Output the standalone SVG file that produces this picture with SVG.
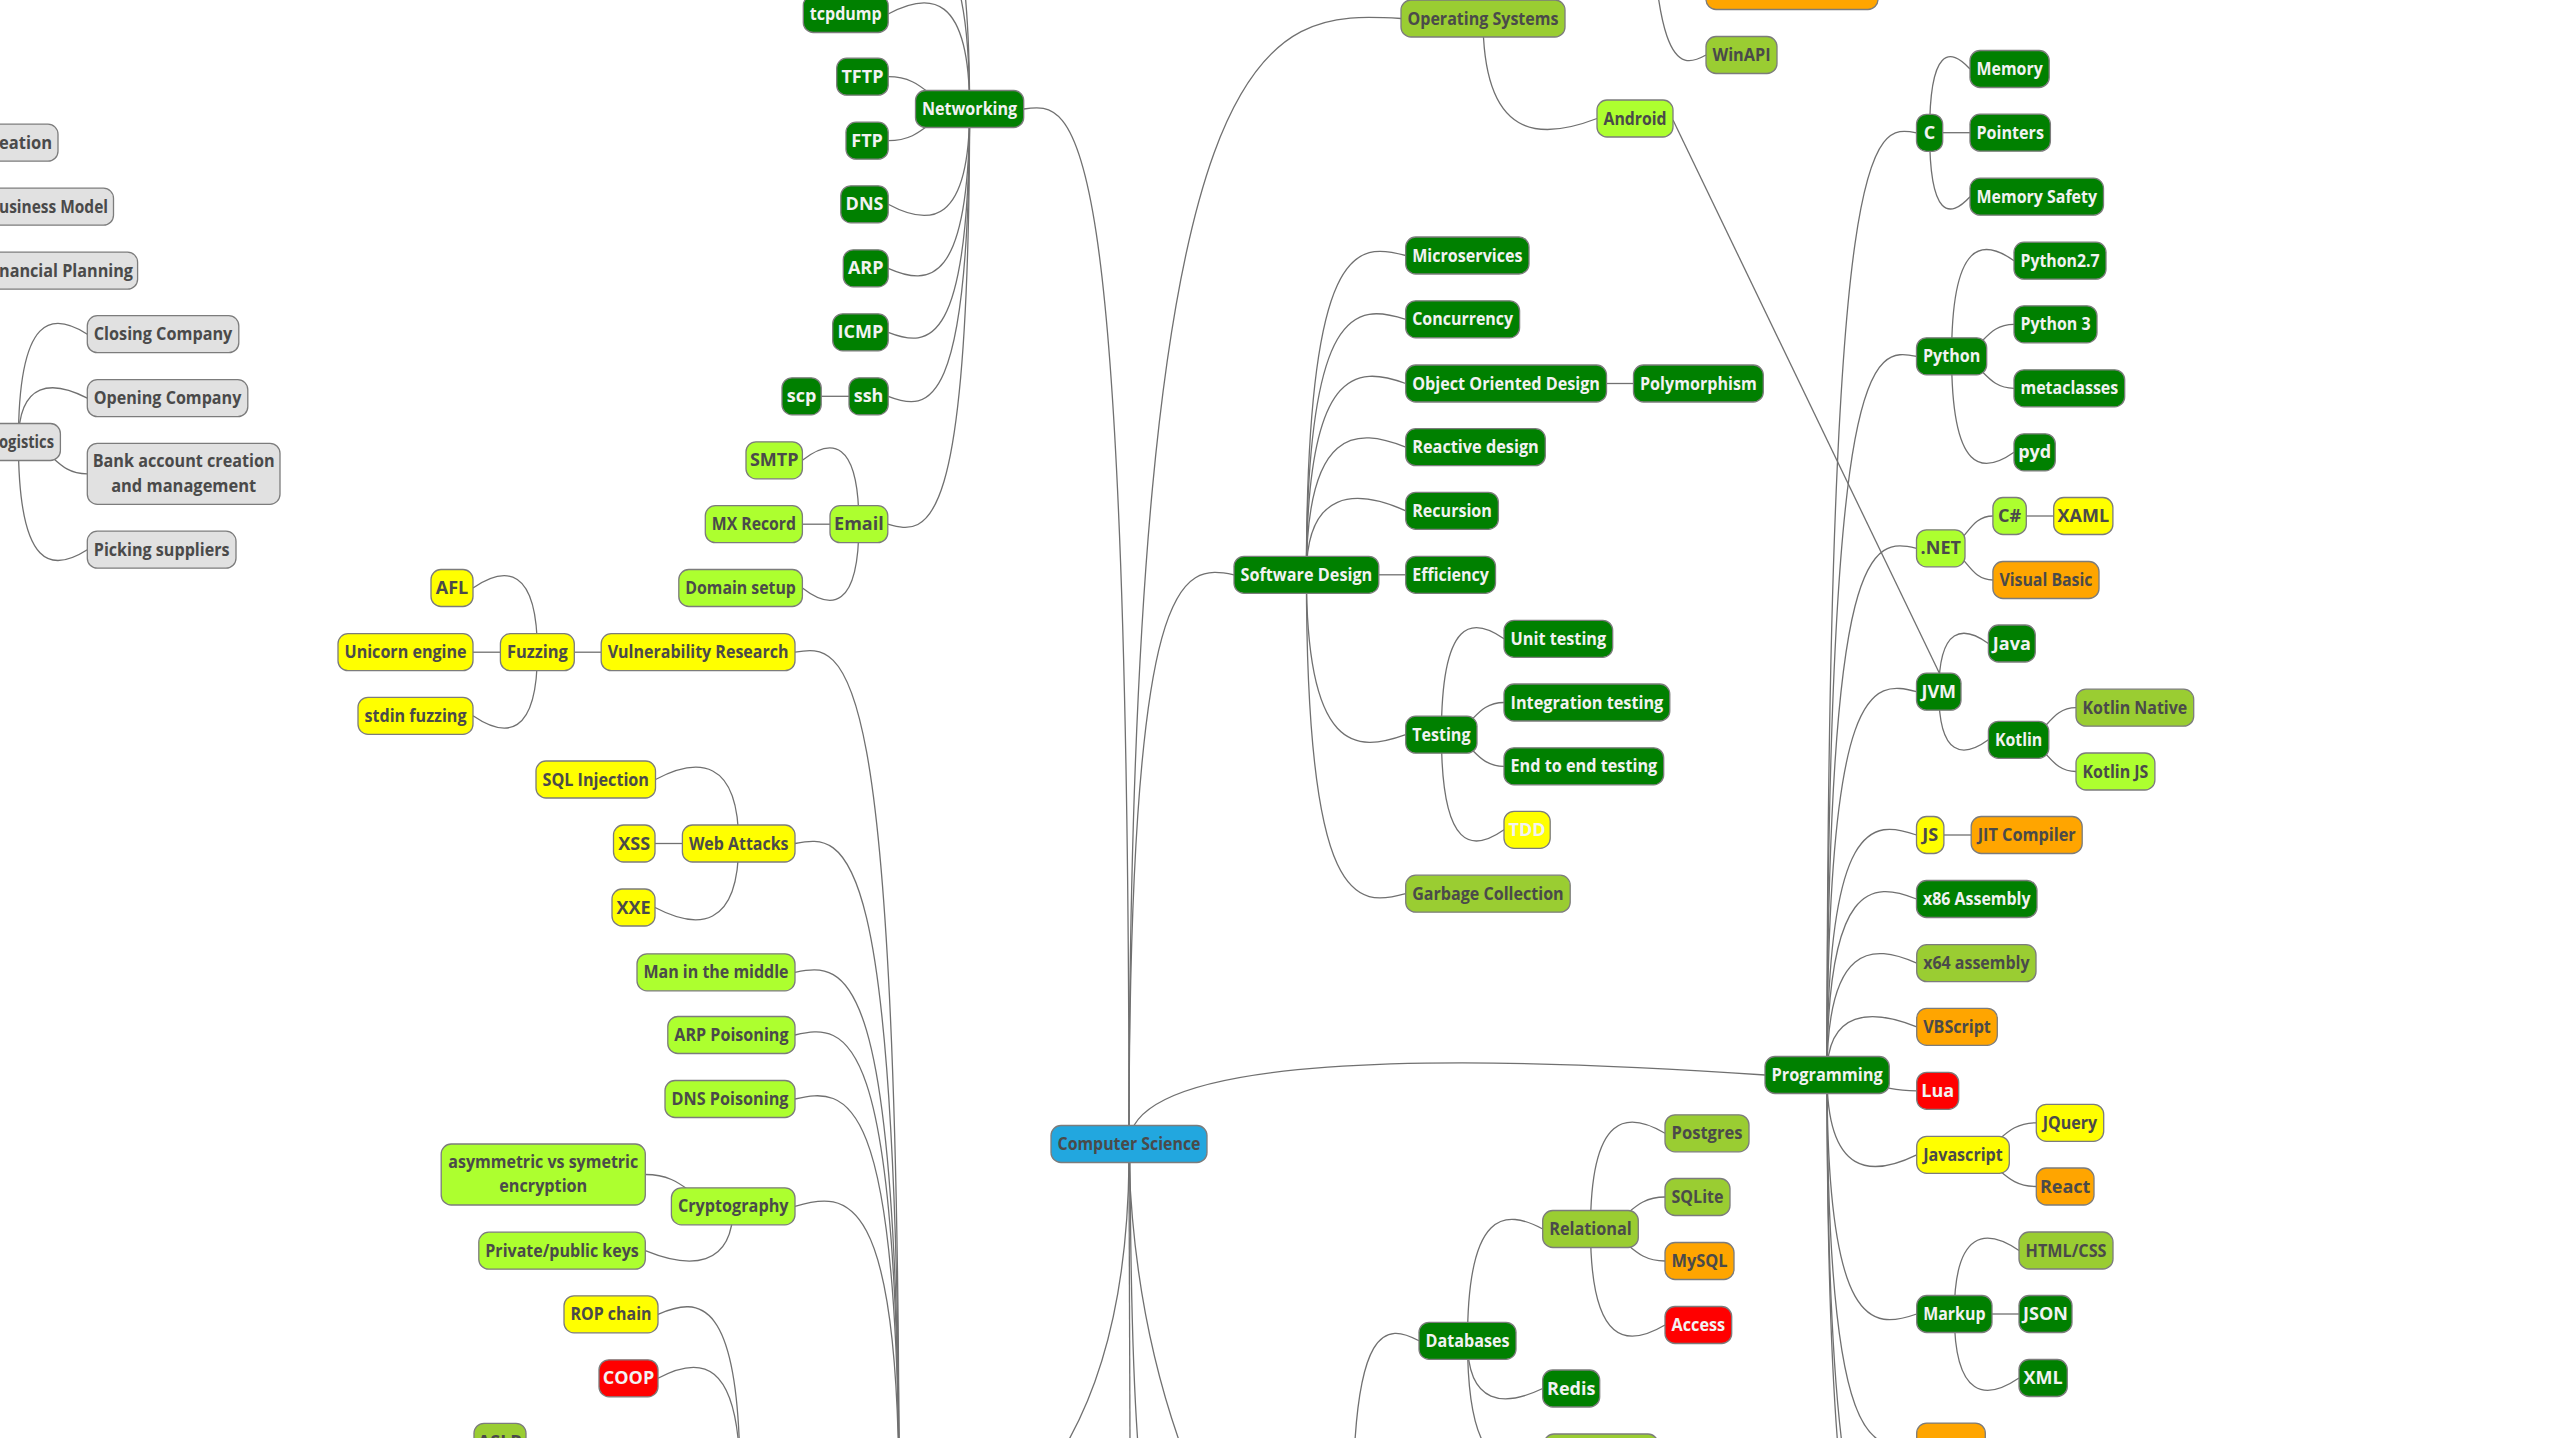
<svg xmlns="http://www.w3.org/2000/svg" width="2550" height="1438" viewBox="0 0 2550 1438">
<style>
.c path{fill:none;stroke:#707070;stroke-width:1.3}
.n rect{stroke:#7c7c7c;stroke-width:1.3}
.n text{font-family:"Open Sans","Noto Sans","DejaVu Sans",sans-serif;font-weight:700;font-size:18px}
.k text{fill:#4a4a4a}
.w text{fill:#f2f2f2}
.g rect{fill:#008000}
.gy rect{fill:#adff2f}
.yg rect{fill:#9acd32}
.y rect{fill:#ffff00}
.o rect{fill:#ffa500}
.r rect{fill:#ff0000}
.gr rect{fill:#e1e1e1}
.b rect{fill:#22a7df}
</style>
<rect x="0" y="0" width="2550" height="1438" fill="#ffffff"/>
<g id="connectors" class="c">
<path d="M18.4,442C18.4,312.2 52.9,312.2 87.3,334.2"/>
<path d="M18.4,442C18.4,380.2 52.9,380.2 87.3,398.2"/>
<path d="M18.4,442C52.9,442 52.9,473.8 87.3,473.8"/>
<path d="M18.4,442C18.4,571.7 52.9,571.7 87.3,549.7"/>
<path d="M969.6,109C969.6,-69.1 928.9,-69.1 888.2,-51.1"/>
<path d="M969.6,109C969.6,-131 928.9,-131 888.2,-115"/>
<path d="M969.6,109C969.6,-8 928.9,-8 888.2,14"/>
<path d="M969.6,109C928.9,109 928.9,76.7 888.2,76.7"/>
<path d="M969.6,109C928.9,109 928.9,140.7 888.2,140.7"/>
<path d="M969.6,109C969.6,226.3 928.9,226.3 888.2,204.3"/>
<path d="M969.6,109C969.6,286.3 928.9,286.3 888.2,268.3"/>
<path d="M969.6,109C969.6,348.3 928.9,348.3 888.2,332.3"/>
<path d="M969.6,109C969.6,412.3 928.9,412.3 888.2,396.3"/>
<path d="M969.6,109C969.6,536.2 928.7,536.2 887.8,524.2"/>
<path d="M849,396.3L821.2,396.3"/>
<path d="M858.9,524.2C858.9,438.3 830.7,438.3 802.4,460.3"/>
<path d="M830,524.2L802.4,524.2"/>
<path d="M858.9,524.2C858.9,610 830.7,610 802.4,588"/>
<path d="M601.2,652.2L574.3,652.2"/>
<path d="M537.4,652.2C537.4,566 505.2,566 473,588"/>
<path d="M500.4,652.2L473,652.2"/>
<path d="M537.4,652.2C537.4,737.8 505.2,737.8 473,715.8"/>
<path d="M738.7,843.5C738.7,757.5 697.1,757.5 655.5,779.5"/>
<path d="M682.4,843.5L655,843.5"/>
<path d="M738.7,843.5C738.7,929.5 696.9,929.5 655,907.5"/>
<path d="M733.2,1206.3C689.3,1206.3 689.3,1174.5 645.3,1174.5"/>
<path d="M733.2,1206.3C733.2,1268.7 689.3,1268.7 645.3,1250.7"/>
<path d="M899,1500C899,643.2 847,643.2 795,652.2"/>
<path d="M899,1500C899,833 847,833 795,843.5"/>
<path d="M899,1500C899,961.8 847,961.8 795,972.3"/>
<path d="M899,1500C899,1023 847,1023 795,1035"/>
<path d="M899,1500C899,1087 847,1087 795,1099"/>
<path d="M899,1500C899,1190.3 847,1190.3 795,1206.3"/>
<path d="M740,1480C740,1296.3 699,1296.3 658,1314.3"/>
<path d="M740,1480C740,1356.3 699,1356.3 658,1378.3"/>
<path d="M1129,1144C1129,101 1076.4,101 1023.7,109"/>
<path d="M1129,1144C1129,10.5 1265,10.5 1401,18.5"/>
<path d="M1129,1144C1129,564.3 1181.5,564.3 1234,574.8"/>
<path d="M1129,1144C1129,1053 1447,1053 1765,1075"/>
<path d="M1129,1162Q1135,1330 1190,1470"/>
<path d="M1129,1162Q1127,1360 1050,1470"/>
<path d="M1129,1162L1130,1445"/>
<path d="M1130,1162Q1131,1350 1138,1445"/>
<path d="M1483,18.5C1483,140.5 1540,140.5 1597,118.5"/>
<path d="M1649,-195C1649,71 1677.5,71 1706,55"/>
<path d="M1673,120L1939.4,673.2"/>
<path d="M1306.4,574.8C1306.4,241.5 1356,241.5 1405.7,255.5"/>
<path d="M1306.4,574.8C1306.4,303.3 1356,303.3 1405.7,319.3"/>
<path d="M1306.4,574.8C1306.4,365.5 1356,365.5 1405.7,383.5"/>
<path d="M1306.4,574.8C1306.4,427.2 1356,427.2 1405.7,447.2"/>
<path d="M1306.4,574.8C1306.4,488.8 1356,488.8 1405.7,510.8"/>
<path d="M1378.8,574.8L1405.7,574.8"/>
<path d="M1306.4,574.8C1306.4,752.7 1356,752.7 1405.7,734.7"/>
<path d="M1306.4,574.8C1306.4,907.7 1356,907.7 1405.7,893.7"/>
<path d="M1606.5,383.5L1633.5,383.5"/>
<path d="M1441.4,734.7C1441.4,616.8 1472.7,616.8 1504,638.8"/>
<path d="M1441.4,734.7C1472.7,734.7 1472.7,702.5 1504,702.5"/>
<path d="M1441.4,734.7C1472.7,734.7 1472.7,766.3 1504,766.3"/>
<path d="M1441.4,734.7C1441.4,851.8 1472.7,851.8 1504,829.8"/>
<path d="M1353,1510C1353,1322.8 1386,1322.8 1419,1340.8"/>
<path d="M1467.5,1340.8C1467.5,1209 1505.1,1209 1542.7,1229"/>
<path d="M1467.5,1340.8C1467.5,1406.5 1505.1,1406.5 1542.7,1388.5"/>
<path d="M1467.5,1340.8C1467.5,1472.5 1505.8,1472.5 1544,1452.5"/>
<path d="M1590.5,1229C1590.5,1111.3 1627.8,1111.3 1665,1133.3"/>
<path d="M1590.5,1229C1627.8,1229 1627.8,1197 1665,1197"/>
<path d="M1590.5,1229C1627.8,1229 1627.8,1261 1665,1261"/>
<path d="M1590.5,1229C1590.5,1347 1627.8,1347 1665,1325"/>
<path d="M1827,1075C1827,123.8 1871.8,123.8 1916.5,132.8"/>
<path d="M1827,1075C1827,347.3 1871.8,347.3 1916.5,356.3"/>
<path d="M1827,1075C1827,537.8 1871.8,537.8 1916.5,548.3"/>
<path d="M1827,1075C1827,679.7 1871.8,679.7 1916.5,691.7"/>
<path d="M1827,1075C1827,819 1871.8,819 1916.5,835"/>
<path d="M1827,1075C1827,881 1871.8,881 1916.5,899"/>
<path d="M1827,1075C1827,943.2 1871.8,943.2 1916.7,963.2"/>
<path d="M1827,1075C1827,1008.8 1871.8,1008.8 1916.7,1026.8"/>
<path d="M1827,1075C1871.8,1075 1871.8,1090.8 1916.7,1090.8"/>
<path d="M1827,1075C1827,1176.8 1871.8,1176.8 1916.7,1154.8"/>
<path d="M1827,1075C1827,1330 1871.8,1330 1916.7,1314"/>
<path d="M1827,1075C1827,1453.6 1871.8,1453.6 1916.7,1441.6"/>
<path d="M1827,1075C1827,1581 1871.8,1581 1916.7,1569.4"/>
<path d="M1827,1075C1827,1643.8 1871.8,1643.8 1916.7,1633.3"/>
<path d="M1929.6,132.8C1929.6,47 1949.8,47 1970,69"/>
<path d="M1942.7,132.7L1970,132.7"/>
<path d="M1929.6,132.8C1929.6,218.7 1949.8,218.7 1970,196.7"/>
<path d="M1951.6,356.3C1951.6,238.7 1982.8,238.7 2014,260.7"/>
<path d="M1951.6,356.3C1982.8,356.3 1982.8,324.3 2014,324.3"/>
<path d="M1951.6,356.3C1982.8,356.3 1982.8,388.3 2014,388.3"/>
<path d="M1951.6,356.3C1951.6,474.3 1982.8,474.3 2014,452.3"/>
<path d="M1940.8,548.3C1966.9,548.3 1966.9,516 1992.9,516"/>
<path d="M1940.8,548.3C1966.9,548.3 1966.9,580 1992.9,580"/>
<path d="M2026.3,516L2053.7,516"/>
<path d="M1938.8,691.7C1938.8,625.5 1963.6,625.5 1988.4,643.5"/>
<path d="M1938.8,691.7C1938.8,757.8 1963.6,757.8 1988.4,739.8"/>
<path d="M2018.6,739.8C2047.3,739.8 2047.3,707.7 2076,707.7"/>
<path d="M2018.6,739.8C2047.3,739.8 2047.3,771.5 2076,771.5"/>
<path d="M1943.9,835L1971.2,835"/>
<path d="M1963,1154.8C1999.7,1154.8 1999.7,1122.8 2036.3,1122.8"/>
<path d="M1963,1154.8C1999.7,1154.8 1999.7,1186.5 2036.3,1186.5"/>
<path d="M1954.3,1314C1954.3,1228.5 1986.7,1228.5 2019,1250.5"/>
<path d="M1992,1314L2019,1314"/>
<path d="M1954.3,1314C1954.3,1400 1986.7,1400 2019,1378"/>
</g>
<g id="n-creation" class="n gr k"><rect x="-40" y="124.2" width="98" height="37" rx="10"/><text x="-1" y="148.7" textLength="53" lengthAdjust="spacingAndGlyphs">eation</text></g>
<g id="n-business-model" class="n gr k"><rect x="-40" y="188.2" width="153.5" height="37" rx="10"/><text x="-1" y="212.7" textLength="109" lengthAdjust="spacingAndGlyphs">usiness Model</text></g>
<g id="n-financial-planning" class="n gr k"><rect x="-40" y="252.2" width="177.6" height="37" rx="10"/><text x="-1" y="276.7" textLength="134" lengthAdjust="spacingAndGlyphs">nancial Planning</text></g>
<g id="n-logistics" class="n gr k"><rect x="-24" y="423.5" width="84.4" height="37" rx="10"/><text x="-1" y="448" textLength="55" lengthAdjust="spacingAndGlyphs">ogistics</text></g>
<g id="n-closing-company" class="n gr k"><rect x="87.3" y="315.7" width="151.5" height="37" rx="10"/><text x="93.8" y="340.2" textLength="138.5" lengthAdjust="spacingAndGlyphs">Closing Company</text></g>
<g id="n-opening-company" class="n gr k"><rect x="87.3" y="379.7" width="160.5" height="37" rx="10"/><text x="93.8" y="404.2" textLength="147.5" lengthAdjust="spacingAndGlyphs">Opening Company</text></g>
<g id="n-bank-account" class="n gr k"><rect x="87.3" y="443.3" width="192.7" height="61" rx="10"/><text x="92.65" y="466.8" textLength="182" lengthAdjust="spacingAndGlyphs">Bank account creation</text><text x="111.15" y="491.5" textLength="145" lengthAdjust="spacingAndGlyphs">and management</text></g>
<g id="n-picking-suppliers" class="n gr k"><rect x="87.3" y="531.2" width="148.7" height="37" rx="10"/><text x="93.8" y="555.7" textLength="135.7" lengthAdjust="spacingAndGlyphs">Picking suppliers</text></g>
<g id="n-networking" class="n g w"><rect x="915.5" y="90.5" width="108.2" height="37" rx="10"/><text x="922" y="115" textLength="95.2" lengthAdjust="spacingAndGlyphs">Networking</text></g>
<g id="n-tcpdump" class="n g w"><rect x="803.3" y="-4.5" width="84.9" height="37" rx="10"/><text x="809.8" y="20" textLength="71.9" lengthAdjust="spacingAndGlyphs">tcpdump</text></g>
<g id="n-tftp" class="n g w"><rect x="836.7" y="58.2" width="51.5" height="37" rx="10"/><text x="862.45" y="82.7" text-anchor="middle">TFTP</text></g>
<g id="n-ftp" class="n g w"><rect x="846" y="122.2" width="42.2" height="37" rx="10"/><text x="867.1" y="146.7" text-anchor="middle">FTP</text></g>
<g id="n-dns" class="n g w"><rect x="840.8" y="185.8" width="47.4" height="37" rx="10"/><text x="864.5" y="210.3" text-anchor="middle">DNS</text></g>
<g id="n-arp" class="n g w"><rect x="843.3" y="249.8" width="44.9" height="37" rx="10"/><text x="865.75" y="274.3" text-anchor="middle">ARP</text></g>
<g id="n-icmp" class="n g w"><rect x="832.7" y="313.8" width="55.5" height="37" rx="10"/><text x="860.45" y="338.3" text-anchor="middle">ICMP</text></g>
<g id="n-ssh" class="n g w"><rect x="849" y="377.8" width="39.2" height="37" rx="10"/><text x="868.6" y="402.3" text-anchor="middle">ssh</text></g>
<g id="n-scp" class="n g w"><rect x="782" y="377.8" width="39.2" height="37" rx="10"/><text x="801.6" y="402.3" text-anchor="middle">scp</text></g>
<g id="n-email" class="n gy k"><rect x="830" y="505.7" width="57.8" height="37" rx="10"/><text x="858.9" y="530.2" text-anchor="middle">Email</text></g>
<g id="n-smtp" class="n gy k"><rect x="746" y="441.8" width="56.4" height="37" rx="10"/><text x="774.2" y="466.3" text-anchor="middle">SMTP</text></g>
<g id="n-mx-record" class="n gy k"><rect x="705.3" y="505.7" width="97.1" height="37" rx="10"/><text x="711.8" y="530.2" textLength="84.1" lengthAdjust="spacingAndGlyphs">MX Record</text></g>
<g id="n-domain-setup" class="n gy k"><rect x="678.8" y="569.5" width="123.6" height="37" rx="10"/><text x="685.3" y="594" textLength="110.6" lengthAdjust="spacingAndGlyphs">Domain setup</text></g>
<g id="n-vulnerability-research" class="n y k"><rect x="601.2" y="633.7" width="193.8" height="37" rx="10"/><text x="607.7" y="658.2" textLength="180.8" lengthAdjust="spacingAndGlyphs">Vulnerability Research</text></g>
<g id="n-fuzzing" class="n y k"><rect x="500.4" y="633.7" width="73.9" height="37" rx="10"/><text x="506.9" y="658.2" textLength="60.9" lengthAdjust="spacingAndGlyphs">Fuzzing</text></g>
<g id="n-unicorn-engine" class="n y k"><rect x="338" y="633.7" width="135" height="37" rx="10"/><text x="344.5" y="658.2" textLength="122" lengthAdjust="spacingAndGlyphs">Unicorn engine</text></g>
<g id="n-afl" class="n y k"><rect x="431" y="569.5" width="42" height="37" rx="10"/><text x="452" y="594" text-anchor="middle">AFL</text></g>
<g id="n-stdin-fuzzing" class="n y k"><rect x="358" y="697.3" width="115" height="37" rx="10"/><text x="364.5" y="721.8" textLength="102" lengthAdjust="spacingAndGlyphs">stdin fuzzing</text></g>
<g id="n-web-attacks" class="n y k"><rect x="682.4" y="825" width="112.6" height="37" rx="10"/><text x="688.9" y="849.5" textLength="99.6" lengthAdjust="spacingAndGlyphs">Web Attacks</text></g>
<g id="n-sql-injection" class="n y k"><rect x="536" y="761" width="119.5" height="37" rx="10"/><text x="542.5" y="785.5" textLength="106.5" lengthAdjust="spacingAndGlyphs">SQL Injection</text></g>
<g id="n-xss" class="n y k"><rect x="613.5" y="825" width="41.5" height="37" rx="10"/><text x="634.25" y="849.5" text-anchor="middle">XSS</text></g>
<g id="n-xxe" class="n y k"><rect x="612" y="889" width="43" height="37" rx="10"/><text x="633.5" y="913.5" text-anchor="middle">XXE</text></g>
<g id="n-mitm" class="n gy k"><rect x="637" y="953.8" width="158" height="37" rx="10"/><text x="643.5" y="978.3" textLength="145" lengthAdjust="spacingAndGlyphs">Man in the middle</text></g>
<g id="n-arp-poisoning" class="n gy k"><rect x="667.8" y="1016.5" width="127.2" height="37" rx="10"/><text x="674.3" y="1041" textLength="114.2" lengthAdjust="spacingAndGlyphs">ARP Poisoning</text></g>
<g id="n-dns-poisoning" class="n gy k"><rect x="665" y="1080.5" width="130" height="37" rx="10"/><text x="671.5" y="1105" textLength="117" lengthAdjust="spacingAndGlyphs">DNS Poisoning</text></g>
<g id="n-cryptography" class="n gy k"><rect x="671.4" y="1187.8" width="123.6" height="37" rx="10"/><text x="677.9" y="1212.3" textLength="110.6" lengthAdjust="spacingAndGlyphs">Cryptography</text></g>
<g id="n-asymmetric" class="n gy k"><rect x="441.2" y="1144" width="204.1" height="61" rx="10"/><text x="448.25" y="1167.5" textLength="190" lengthAdjust="spacingAndGlyphs">asymmetric vs symetric</text><text x="499.25" y="1192" textLength="88" lengthAdjust="spacingAndGlyphs">encryption</text></g>
<g id="n-private-public-keys" class="n gy k"><rect x="478.8" y="1232.2" width="166.5" height="37" rx="10"/><text x="485.3" y="1256.7" textLength="153.5" lengthAdjust="spacingAndGlyphs">Private/public keys</text></g>
<g id="n-rop-chain" class="n y k"><rect x="564" y="1295.8" width="94" height="37" rx="10"/><text x="570.5" y="1320.3" textLength="81" lengthAdjust="spacingAndGlyphs">ROP chain</text></g>
<g id="n-coop" class="n r w"><rect x="599" y="1359.8" width="59" height="37" rx="10"/><text x="628.5" y="1384.3" text-anchor="middle">COOP</text></g>
<g id="n-aslr" class="n yg k"><rect x="474" y="1423.3" width="52" height="37" rx="10"/><text x="500" y="1447.8" text-anchor="middle">ASLR</text></g>
<g id="n-computer-science" class="n b k"><rect x="1051" y="1125.5" width="156" height="37" rx="10"/><text x="1057.5" y="1150" textLength="143" lengthAdjust="spacingAndGlyphs">Computer Science</text></g>
<g id="n-operating-systems" class="n yg k"><rect x="1401" y="0" width="164" height="37" rx="10"/><text x="1407.5" y="24.5" textLength="151" lengthAdjust="spacingAndGlyphs">Operating Systems</text></g>
<g id="n-windows-child" class="n o k"><rect x="1706" y="-27.5" width="172" height="37" rx="10"/></g>
<g id="n-winapi" class="n yg k"><rect x="1706" y="36.5" width="71" height="37" rx="10"/><text x="1712.5" y="61" textLength="58" lengthAdjust="spacingAndGlyphs">WinAPI</text></g>
<g id="n-android" class="n gy k"><rect x="1597" y="100" width="76" height="37" rx="10"/><text x="1603.5" y="124.5" textLength="63" lengthAdjust="spacingAndGlyphs">Android</text></g>
<g id="n-software-design" class="n g w"><rect x="1234" y="556.3" width="144.8" height="37" rx="10"/><text x="1240.5" y="580.8" textLength="131.8" lengthAdjust="spacingAndGlyphs">Software Design</text></g>
<g id="n-microservices" class="n g w"><rect x="1405.7" y="237" width="123.3" height="37" rx="10"/><text x="1412.2" y="261.5" textLength="110.3" lengthAdjust="spacingAndGlyphs">Microservices</text></g>
<g id="n-concurrency" class="n g w"><rect x="1405.7" y="300.8" width="113.9" height="37" rx="10"/><text x="1412.2" y="325.3" textLength="100.9" lengthAdjust="spacingAndGlyphs">Concurrency</text></g>
<g id="n-ood" class="n g w"><rect x="1405.7" y="365" width="200.8" height="37" rx="10"/><text x="1412.2" y="389.5" textLength="187.8" lengthAdjust="spacingAndGlyphs">Object Oriented Design</text></g>
<g id="n-polymorphism" class="n g w"><rect x="1633.5" y="365" width="129.8" height="37" rx="10"/><text x="1640" y="389.5" textLength="116.8" lengthAdjust="spacingAndGlyphs">Polymorphism</text></g>
<g id="n-reactive-design" class="n g w"><rect x="1405.7" y="428.7" width="139.6" height="37" rx="10"/><text x="1412.2" y="453.2" textLength="126.6" lengthAdjust="spacingAndGlyphs">Reactive design</text></g>
<g id="n-recursion" class="n g w"><rect x="1405.7" y="492.3" width="92.7" height="37" rx="10"/><text x="1412.2" y="516.8" textLength="79.7" lengthAdjust="spacingAndGlyphs">Recursion</text></g>
<g id="n-efficiency" class="n g w"><rect x="1405.7" y="556.3" width="89.8" height="37" rx="10"/><text x="1412.2" y="580.8" textLength="76.8" lengthAdjust="spacingAndGlyphs">Efficiency</text></g>
<g id="n-testing" class="n g w"><rect x="1405.7" y="716.2" width="71.3" height="37" rx="10"/><text x="1412.2" y="740.7" textLength="58.3" lengthAdjust="spacingAndGlyphs">Testing</text></g>
<g id="n-unit-testing" class="n g w"><rect x="1504" y="620.3" width="108.7" height="37" rx="10"/><text x="1510.5" y="644.8" textLength="95.7" lengthAdjust="spacingAndGlyphs">Unit testing</text></g>
<g id="n-integration-testing" class="n g w"><rect x="1504" y="684" width="165.8" height="37" rx="10"/><text x="1510.5" y="708.5" textLength="152.8" lengthAdjust="spacingAndGlyphs">Integration testing</text></g>
<g id="n-end-to-end-testing" class="n g w"><rect x="1504" y="747.8" width="159.7" height="37" rx="10"/><text x="1510.5" y="772.3" textLength="146.7" lengthAdjust="spacingAndGlyphs">End to end testing</text></g>
<g id="n-tdd" class="n y w"><rect x="1504" y="811.3" width="46.2" height="37" rx="10"/><text x="1527.1" y="835.8" text-anchor="middle">TDD</text></g>
<g id="n-garbage-collection" class="n yg k"><rect x="1405.7" y="875.2" width="164.5" height="37" rx="10"/><text x="1412.2" y="899.7" textLength="151.5" lengthAdjust="spacingAndGlyphs">Garbage Collection</text></g>
<g id="n-databases" class="n g w"><rect x="1419" y="1322.3" width="97" height="37" rx="10"/><text x="1425.5" y="1346.8" textLength="84" lengthAdjust="spacingAndGlyphs">Databases</text></g>
<g id="n-relational" class="n yg k"><rect x="1542.7" y="1210.5" width="95.6" height="37" rx="10"/><text x="1549.2" y="1235" textLength="82.6" lengthAdjust="spacingAndGlyphs">Relational</text></g>
<g id="n-postgres" class="n yg k"><rect x="1665" y="1114.8" width="84" height="37" rx="10"/><text x="1671.5" y="1139.3" textLength="71" lengthAdjust="spacingAndGlyphs">Postgres</text></g>
<g id="n-sqlite" class="n yg k"><rect x="1665" y="1178.5" width="65" height="37" rx="10"/><text x="1671.5" y="1203" textLength="52" lengthAdjust="spacingAndGlyphs">SQLite</text></g>
<g id="n-mysql" class="n o k"><rect x="1665" y="1242.5" width="69" height="37" rx="10"/><text x="1671.5" y="1267" textLength="56" lengthAdjust="spacingAndGlyphs">MySQL</text></g>
<g id="n-access" class="n r w"><rect x="1665" y="1306.5" width="66.7" height="37" rx="10"/><text x="1671.5" y="1331" textLength="53.7" lengthAdjust="spacingAndGlyphs">Access</text></g>
<g id="n-redis" class="n g w"><rect x="1542.7" y="1370" width="57" height="37" rx="10"/><text x="1571.2" y="1394.5" text-anchor="middle">Redis</text></g>
<g id="n-databases-child" class="n yg k"><rect x="1544" y="1434" width="114" height="37" rx="10"/></g>
<g id="n-programming" class="n g w"><rect x="1765" y="1056.5" width="124.3" height="37" rx="10"/><text x="1771.5" y="1081" textLength="111.3" lengthAdjust="spacingAndGlyphs">Programming</text></g>
<g id="n-c" class="n g w"><rect x="1916.5" y="114.3" width="26.2" height="37" rx="10"/><text x="1929.6" y="138.8" text-anchor="middle">C</text></g>
<g id="n-memory" class="n g w"><rect x="1970" y="50.5" width="79.2" height="37" rx="10"/><text x="1976.5" y="75" textLength="66.2" lengthAdjust="spacingAndGlyphs">Memory</text></g>
<g id="n-pointers" class="n g w"><rect x="1970" y="114.2" width="80.4" height="37" rx="10"/><text x="1976.5" y="138.7" textLength="67.4" lengthAdjust="spacingAndGlyphs">Pointers</text></g>
<g id="n-memory-safety" class="n g w"><rect x="1970" y="178.2" width="133.5" height="37" rx="10"/><text x="1976.5" y="202.7" textLength="120.5" lengthAdjust="spacingAndGlyphs">Memory Safety</text></g>
<g id="n-python" class="n g w"><rect x="1916.5" y="337.8" width="70.2" height="37" rx="10"/><text x="1923" y="362.3" textLength="57.2" lengthAdjust="spacingAndGlyphs">Python</text></g>
<g id="n-python27" class="n g w"><rect x="2014" y="242.2" width="92" height="37" rx="10"/><text x="2020.5" y="266.7" textLength="79" lengthAdjust="spacingAndGlyphs">Python2.7</text></g>
<g id="n-python3" class="n g w"><rect x="2014" y="305.8" width="83" height="37" rx="10"/><text x="2020.5" y="330.3" textLength="70" lengthAdjust="spacingAndGlyphs">Python 3</text></g>
<g id="n-metaclasses" class="n g w"><rect x="2014" y="369.8" width="110.7" height="37" rx="10"/><text x="2020.5" y="394.3" textLength="97.7" lengthAdjust="spacingAndGlyphs">metaclasses</text></g>
<g id="n-pyd" class="n g w"><rect x="2014" y="433.8" width="41.3" height="37" rx="10"/><text x="2034.65" y="458.3" text-anchor="middle">pyd</text></g>
<g id="n-dotnet" class="n gy k"><rect x="1916.5" y="529.8" width="48.5" height="37" rx="10"/><text x="1940.75" y="554.3" text-anchor="middle">.NET</text></g>
<g id="n-csharp" class="n gy k"><rect x="1992.9" y="497.5" width="33.4" height="37" rx="10"/><text x="2009.6" y="522" text-anchor="middle">C#</text></g>
<g id="n-xaml" class="n y k"><rect x="2053.7" y="497.5" width="59.2" height="37" rx="10"/><text x="2083.3" y="522" text-anchor="middle">XAML</text></g>
<g id="n-visual-basic" class="n o k"><rect x="1992.9" y="561.5" width="106.1" height="37" rx="10"/><text x="1999.4" y="586" textLength="93.1" lengthAdjust="spacingAndGlyphs">Visual Basic</text></g>
<g id="n-jvm" class="n g w"><rect x="1916.5" y="673.2" width="44.5" height="37" rx="10"/><text x="1938.75" y="697.7" text-anchor="middle">JVM</text></g>
<g id="n-java" class="n g w"><rect x="1988.4" y="625" width="46.9" height="37" rx="10"/><text x="2011.85" y="649.5" text-anchor="middle">Java</text></g>
<g id="n-kotlin" class="n g w"><rect x="1988.4" y="721.3" width="60.4" height="37" rx="10"/><text x="1994.9" y="745.8" textLength="47.4" lengthAdjust="spacingAndGlyphs">Kotlin</text></g>
<g id="n-kotlin-native" class="n yg k"><rect x="2076" y="689.2" width="117.7" height="37" rx="10"/><text x="2082.5" y="713.7" textLength="104.7" lengthAdjust="spacingAndGlyphs">Kotlin Native</text></g>
<g id="n-kotlin-js" class="n gy k"><rect x="2076" y="753" width="78.9" height="37" rx="10"/><text x="2082.5" y="777.5" textLength="65.9" lengthAdjust="spacingAndGlyphs">Kotlin JS</text></g>
<g id="n-js" class="n y k"><rect x="1916.5" y="816.5" width="27.4" height="37" rx="10"/><text x="1930.2" y="841" text-anchor="middle">JS</text></g>
<g id="n-jit-compiler" class="n o k"><rect x="1971.2" y="816.5" width="111" height="37" rx="10"/><text x="1977.7" y="841" textLength="98" lengthAdjust="spacingAndGlyphs">JIT Compiler</text></g>
<g id="n-x86-assembly" class="n g w"><rect x="1916.5" y="880.5" width="120.5" height="37" rx="10"/><text x="1923" y="905" textLength="107.5" lengthAdjust="spacingAndGlyphs">x86 Assembly</text></g>
<g id="n-x64-assembly" class="n yg k"><rect x="1916.7" y="944.7" width="119.3" height="37" rx="10"/><text x="1923.2" y="969.2" textLength="106.3" lengthAdjust="spacingAndGlyphs">x64 assembly</text></g>
<g id="n-vbscript" class="n o k"><rect x="1916.7" y="1008.3" width="80.6" height="37" rx="10"/><text x="1923.2" y="1032.8" textLength="67.6" lengthAdjust="spacingAndGlyphs">VBScript</text></g>
<g id="n-lua" class="n r w"><rect x="1916.7" y="1072.3" width="42" height="37" rx="10"/><text x="1937.7" y="1096.8" text-anchor="middle">Lua</text></g>
<g id="n-javascript" class="n y k"><rect x="1916.7" y="1136.3" width="92.6" height="37" rx="10"/><text x="1923.2" y="1160.8" textLength="79.6" lengthAdjust="spacingAndGlyphs">Javascript</text></g>
<g id="n-jquery" class="n y k"><rect x="2036.3" y="1104.3" width="67.4" height="37" rx="10"/><text x="2042.8" y="1128.8" textLength="54.4" lengthAdjust="spacingAndGlyphs">JQuery</text></g>
<g id="n-react" class="n o k"><rect x="2036.3" y="1168" width="57.7" height="37" rx="10"/><text x="2065.15" y="1192.5" text-anchor="middle">React</text></g>
<g id="n-markup" class="n g w"><rect x="1916.7" y="1295.5" width="75.3" height="37" rx="10"/><text x="1923.2" y="1320" textLength="62.3" lengthAdjust="spacingAndGlyphs">Markup</text></g>
<g id="n-html-css" class="n yg k"><rect x="2019" y="1232" width="94" height="37" rx="10"/><text x="2025.5" y="1256.5" textLength="81" lengthAdjust="spacingAndGlyphs">HTML/CSS</text></g>
<g id="n-json" class="n g w"><rect x="2019" y="1295.5" width="53" height="37" rx="10"/><text x="2045.5" y="1320" text-anchor="middle">JSON</text></g>
<g id="n-xml" class="n g w"><rect x="2019" y="1359.5" width="48.3" height="37" rx="10"/><text x="2043.15" y="1384" text-anchor="middle">XML</text></g>
<g id="n-programming-child" class="n o k"><rect x="1916.7" y="1423.1" width="68.6" height="37" rx="10"/></g>
</svg>
